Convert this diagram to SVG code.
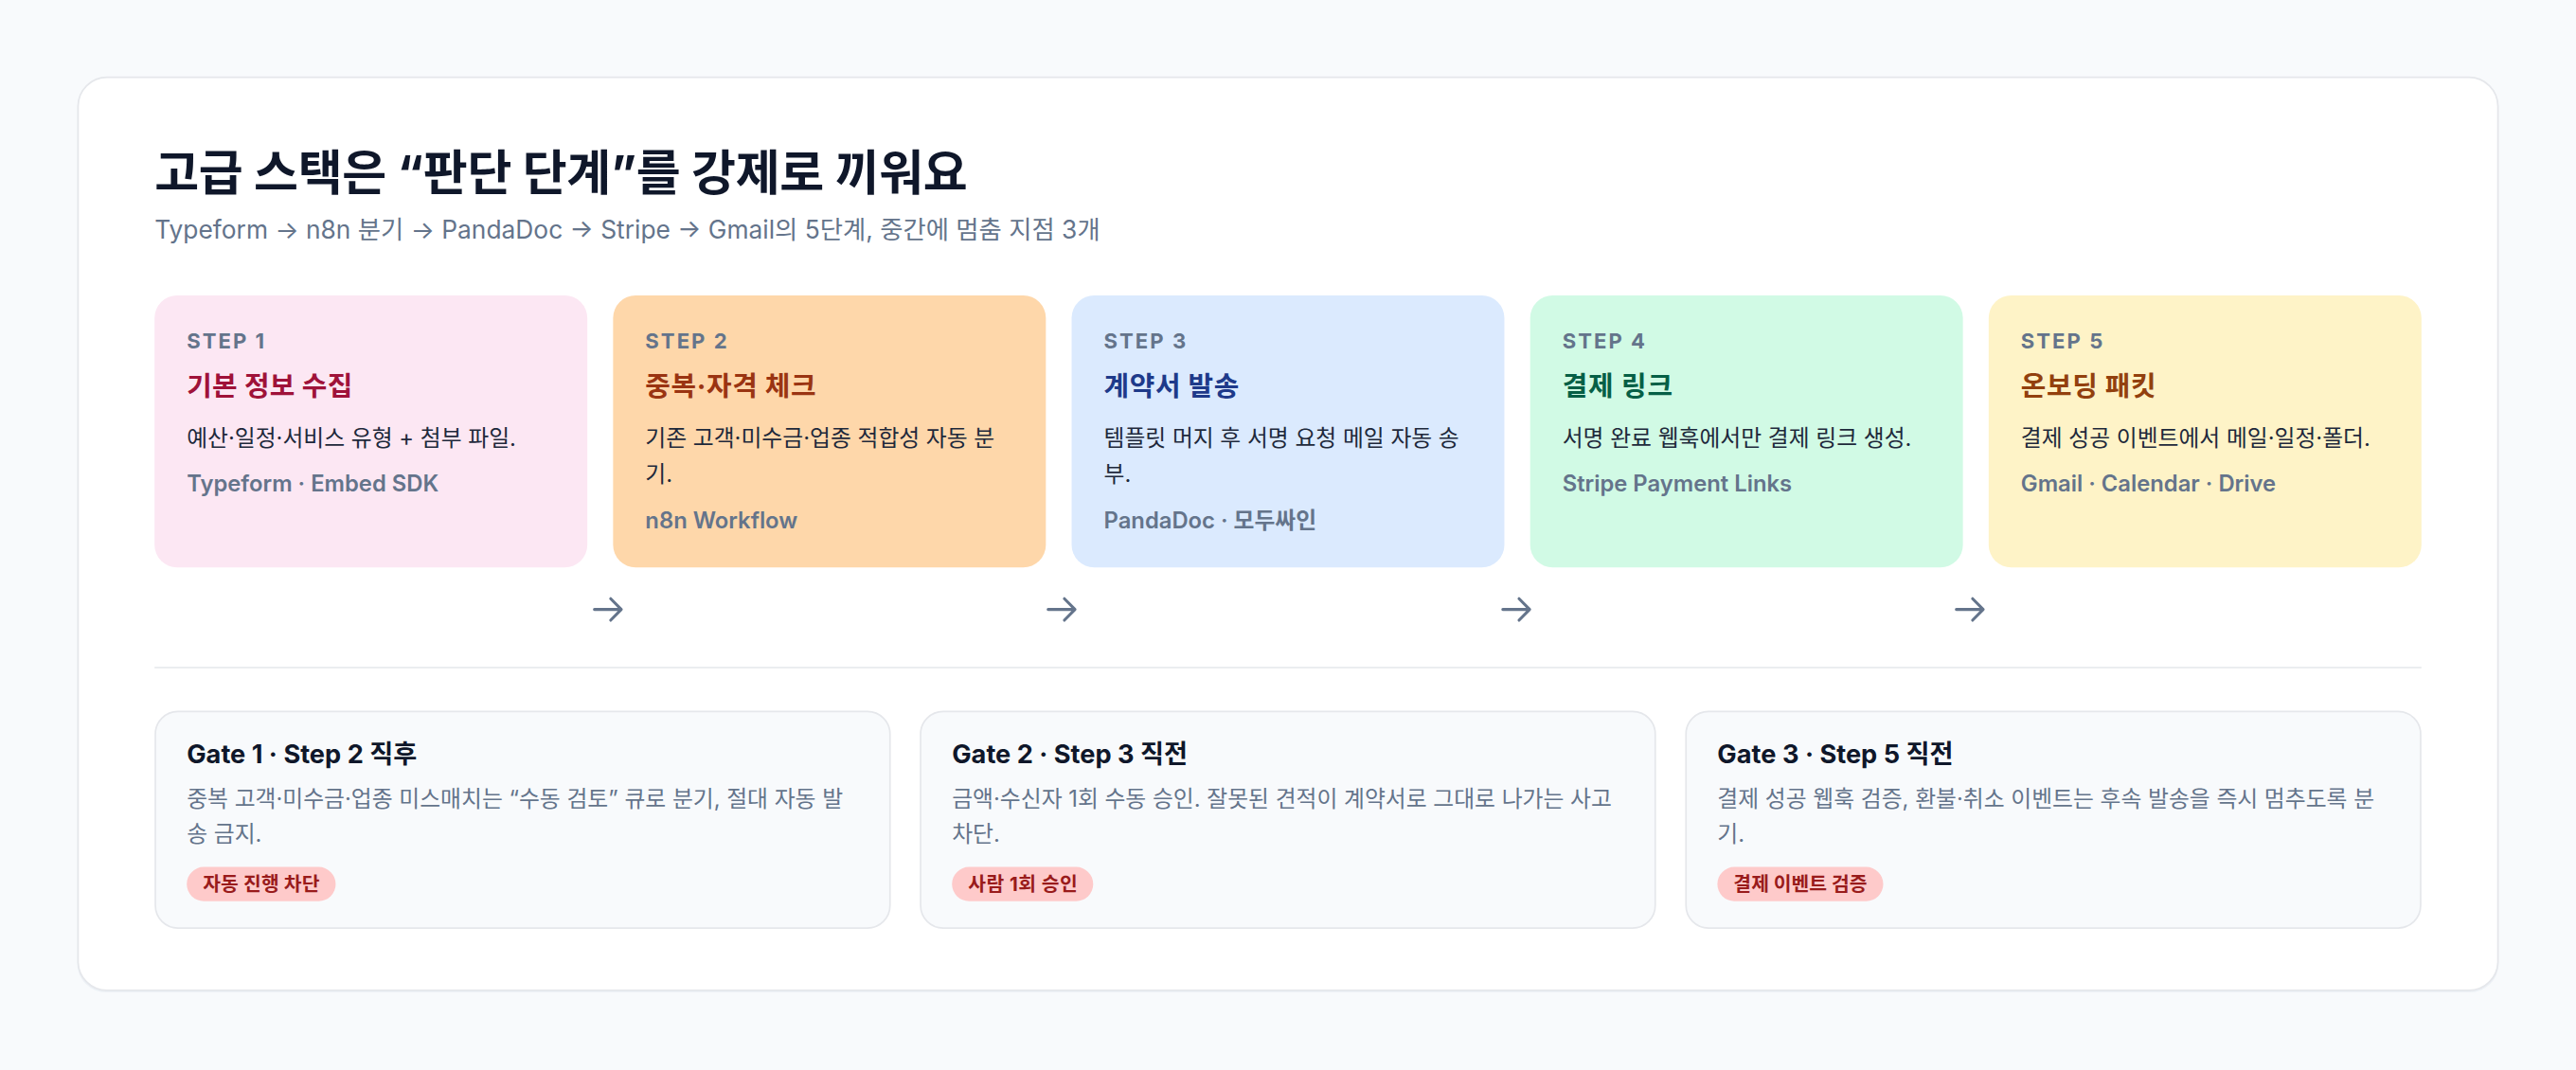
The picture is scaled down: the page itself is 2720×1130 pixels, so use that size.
<svg xmlns="http://www.w3.org/2000/svg" width="2720" height="1130" viewBox="0 0 2720 1130">
<defs>
<style>
text{font-family:Inter,"Noto Sans CJK KR",sans-serif;}
.h1{font-size:30px;font-weight:700;fill:#0f172a;}
.sub{font-size:15.5px;fill:#64748b;}
.step{font-size:13px;font-weight:700;fill:#64748b;letter-spacing:1.2px;}
.st{font-size:17px;font-weight:700;}
.desc{font-size:14px;fill:#1e293b;}
.tech{font-size:14px;font-weight:600;fill:#64748b;}
.gt{font-size:16px;font-weight:700;fill:#0f172a;}
.gd{font-size:14px;fill:#64748b;}
.badge{fill:#fecaca;}
.bt{font-size:12px;font-weight:700;fill:#991b1b;}
.gate{fill:#f8fafc;stroke:#e5e7eb;stroke-width:1;}
.arrow{fill:none;stroke:#64748b;stroke-width:1.8;stroke-linecap:round;stroke-linejoin:round;}
</style>
</defs>
<rect width="2720" height="1130" fill="#f8fafc"/>
<g transform="scale(1.7)">
<g id="frame">
<rect x="48" y="48.8" width="1504" height="567.7" rx="18" fill="#e2e8f0" opacity="0.5"/>
<rect x="48.5" y="48" width="1503" height="567.2" rx="18" fill="#ffffff" stroke="#e5e7eb" stroke-width="1"/>
</g>
<g id="header">
<text class="h1" x="96" y="118" textLength="505" lengthAdjust="spacing">고급 스택은 “판단 단계”를 강제로 끼워요</text>
<text class="sub" x="96" y="148">Typeform → n8n 분기 → PandaDoc → Stripe → Gmail의 5단계, 중간에 멈춤 지점 3개</text>
</g>
<g id="step1">
<rect x="96" y="183.5" width="268.8" height="169" rx="14" fill="#fce7f3"/>
<text class="step" x="116" y="216.5">STEP 1</text>
<text class="st" x="116" y="246" fill="#9f1239" textLength="103" lengthAdjust="spacing">기본 정보 수집</text>
<text class="desc" x="116" y="277">예산·일정·서비스 유형 + 첨부 파일.</text>
<text class="tech" x="116" y="305.5">Typeform · Embed SDK</text>
</g>
<g id="step2">
<rect x="380.8" y="183.5" width="268.8" height="169" rx="14" fill="#fed7aa"/>
<text class="step" x="400.8" y="216.5">STEP 2</text>
<text class="st" x="400.8" y="246" fill="#9a3412" textLength="106" lengthAdjust="spacing">중복·자격 체크</text>
<text class="desc" x="400.8" y="277">기존 고객·미수금·업종 적합성 자동 분</text>
<text class="desc" x="400.8" y="299.5">기.</text>
<text class="tech" x="400.8" y="328">n8n Workflow</text>
</g>
<g id="step3">
<rect x="665.6" y="183.5" width="268.8" height="169" rx="14" fill="#dbeafe"/>
<text class="step" x="685.6" y="216.5">STEP 3</text>
<text class="st" x="685.6" y="246" fill="#1e3a8a" textLength="84" lengthAdjust="spacing">계약서 발송</text>
<text class="desc" x="685.6" y="277">템플릿 머지 후 서명 요청 메일 자동 송</text>
<text class="desc" x="685.6" y="299.5">부.</text>
<text class="tech" x="685.6" y="328">PandaDoc · 모두싸인</text>
</g>
<g id="step4">
<rect x="950.4" y="183.5" width="268.8" height="169" rx="14" fill="#d1fae5"/>
<text class="step" x="970.4" y="216.5">STEP 4</text>
<text class="st" x="970.4" y="246" fill="#065f46" textLength="68.5" lengthAdjust="spacing">결제 링크</text>
<text class="desc" x="970.4" y="277">서명 완료 웹훅에서만 결제 링크 생성.</text>
<text class="tech" x="970.4" y="305.5">Stripe Payment Links</text>
</g>
<g id="step5">
<rect x="1235.2" y="183.5" width="268.8" height="169" rx="14" fill="#fef3c7"/>
<text class="step" x="1255.2" y="216.5">STEP 5</text>
<text class="st" x="1255.2" y="246" fill="#92400e" textLength="84" lengthAdjust="spacing">온보딩 패킷</text>
<text class="desc" x="1255.2" y="277">결제 성공 이벤트에서 메일·일정·폴더.</text>
<text class="tech" x="1255.2" y="305.5">Gmail · Calendar · Drive</text>
</g>
<g id="connectors">
<path class="arrow" d="M369.2 378.6H385.9M379.3 371.9L385.9 378.6L379.3 385.3"/>
<path class="arrow" d="M651 378.6H667.7M661.1 371.9L667.7 378.6L661.1 385.3"/>
<path class="arrow" d="M933.4 378.6H950.1M943.5 371.9L950.1 378.6L943.5 385.3"/>
<path class="arrow" d="M1215.1 378.6H1231.8M1225.2 371.9L1231.8 378.6L1225.2 385.3"/>
</g>
<g id="divider">
<line x1="96" y1="414.7" x2="1504" y2="414.7" stroke="#e5e7eb" stroke-width="1"/>
</g>
<g id="gate1">
<rect class="gate" x="96.5" y="442" width="456.3" height="134.5" rx="14"/>
<text class="gt" x="116" y="474">Gate 1 · Step 2 직후</text>
<text class="gd" x="116" y="501">중복 고객·미수금·업종 미스매치는 “수동 검토” 큐로 분기, 절대 자동 발</text>
<text class="gd" x="116" y="523">송 금지.</text>
<rect class="badge" x="116" y="538.6" width="92.5" height="21.2" rx="10.6"/>
<text class="bt" x="126" y="553.5" textLength="72.5" lengthAdjust="spacing">자동 진행 차단</text>
</g>
<g id="gate2">
<rect class="gate" x="571.8" y="442" width="456.3" height="134.5" rx="14"/>
<text class="gt" x="591.3" y="474">Gate 2 · Step 3 직전</text>
<text class="gd" x="591.3" y="501">금액·수신자 1회 수동 승인. 잘못된 견적이 계약서로 그대로 나가는 사고</text>
<text class="gd" x="591.3" y="523">차단.</text>
<rect class="badge" x="591.3" y="538.6" width="87.7" height="21.2" rx="10.6"/>
<text class="bt" x="601.3" y="553.5" textLength="68" lengthAdjust="spacing">사람 1회 승인</text>
</g>
<g id="gate3">
<rect class="gate" x="1047.2" y="442" width="456.3" height="134.5" rx="14"/>
<text class="gt" x="1066.7" y="474">Gate 3 · Step 5 직전</text>
<text class="gd" x="1066.7" y="501">결제 성공 웹훅 검증, 환불·취소 이벤트는 후속 발송을 즉시 멈추도록 분</text>
<text class="gd" x="1066.7" y="523">기.</text>
<rect class="badge" x="1066.7" y="538.6" width="103" height="21.2" rx="10.6"/>
<text class="bt" x="1076.7" y="553.5" textLength="83" lengthAdjust="spacing">결제 이벤트 검증</text>
</g>
</g>
</svg>
